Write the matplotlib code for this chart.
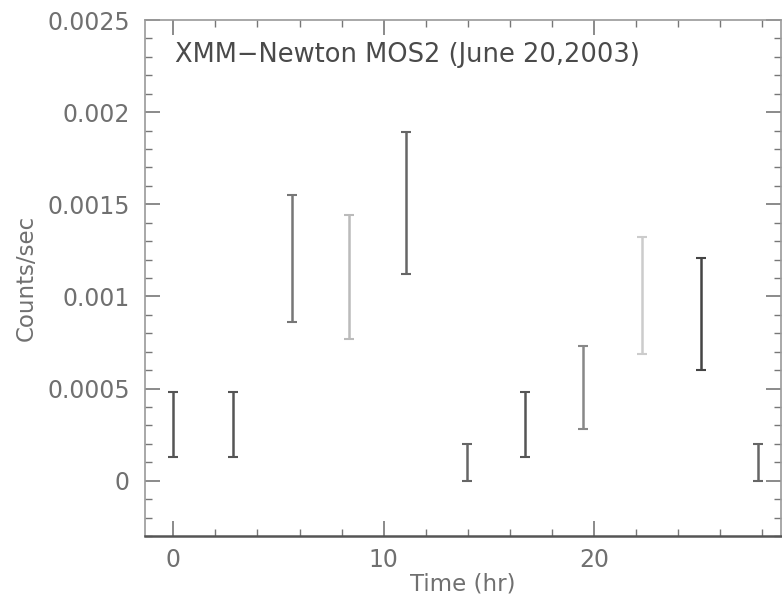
import numpy as np
import matplotlib
matplotlib.use('Agg')
import matplotlib.pyplot as plt
from matplotlib.ticker import MultipleLocator

# light curve
time_hr = [0.0, 2.86, 5.64, 8.37, 11.08, 13.97, 16.71, 19.49, 22.3, 25.08, 27.83]
err_top = [0.00048, 0.00048, 0.00155, 0.00144, 0.00189, 0.00020, 0.00048, 0.00073, 0.00132, 0.00121, 0.00020]
err_bot = [0.00013, 0.00013, 0.00086, 0.00077, 0.00112, 0.0, 0.00013, 0.00028, 0.00069, 0.00060, 0.0]
bar_gray = ['#555555', '#555555', '#777777', '#bbbbbb', '#666666', '#666666',
            '#555555', '#888888', '#cccccc', '#444444', '#666666']

top = np.array(err_top)
bot = np.array(err_bot)
rate = (top + bot) / 2
err = (top - bot) / 2

txt = '#707070'
fig = plt.figure(figsize=(7.82, 5.99), dpi=100)
ax = fig.add_axes([0.1854, 0.1052, 0.8133, 0.8614])

for t, r, e, c in zip(time_hr, rate, err, bar_gray):
    ax.errorbar(t, r, yerr=e, fmt='none', ecolor=c, elinewidth=1.8,
                capsize=3.6, capthick=1.5)

ax.set_xlim(-1.35, 28.9)
ax.set_ylim(-0.0003, 0.0025)
ax.xaxis.set_major_locator(MultipleLocator(10))
ax.xaxis.set_minor_locator(MultipleLocator(2))
ax.yaxis.set_minor_locator(MultipleLocator(0.0001))
ax.set_yticks([0, 0.0005, 0.001, 0.0015, 0.002, 0.0025])
ax.set_yticklabels(['0', '0.0005', '0.001', '0.0015', '0.002', '0.0025'])

ax.tick_params(which='both', direction='in', top=True, right=True,
               colors='#777777', labelcolor=txt, labelsize=17)
ax.tick_params(axis='y', which='major', pad=11)
ax.tick_params(axis='x', which='major', pad=9)
ax.tick_params(which='major', length=11, width=1.2)
ax.tick_params(which='minor', length=5, width=1)
for s in ax.spines.values():
    s.set_color('#999999')
    s.set_linewidth(1.2)
ax.spines['bottom'].set_color('#555555')
ax.spines['bottom'].set_linewidth(1.8)

ax.set_xlabel('Time (hr)', fontsize=16.5, color=txt, labelpad=0)
ax.set_ylabel('Counts/sec', fontsize=16.5, color=txt, labelpad=7)
ax.text(0.047, 0.957, 'XMM\u2212Newton MOS2 (June 20,2003)', transform=ax.transAxes,
        fontsize=18.5, color='#4a4a4a', va='top', ha='left')

fig.savefig('out.png', dpi=100)
